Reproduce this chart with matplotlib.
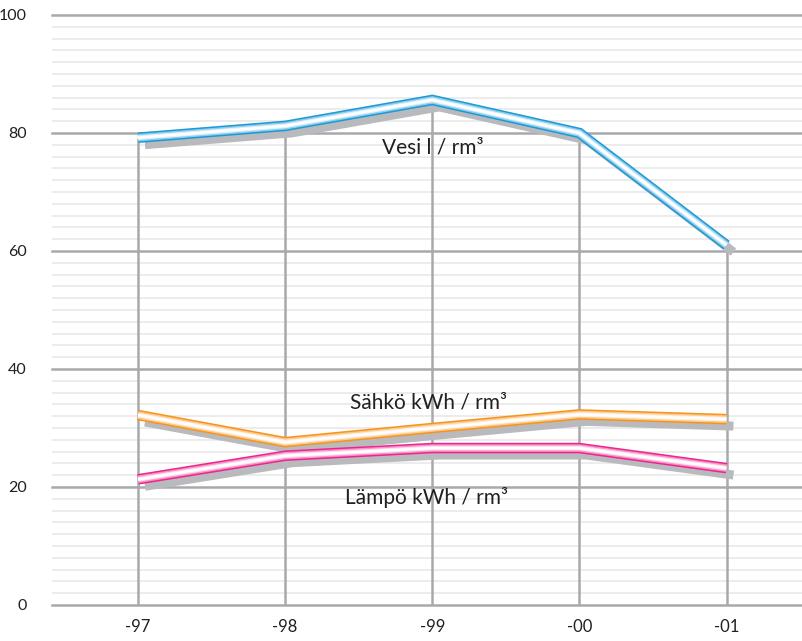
import numpy as np
import matplotlib
matplotlib.use("Agg")
import matplotlib.pyplot as plt
import matplotlib.transforms as mtransforms
from matplotlib.colors import to_rgb

plt.rcParams['font.family'] = ['Lato', 'DejaVu Sans']

# data
years = ["-97", "-98", "-99", "-00", "-01"]
vesi = [79.2, 81.2, 85.6, 80.0, 61.0]
sahko = [32.2, 27.6, 30.0, 32.3, 31.5]
lampo = [21.3, 25.3, 26.6, 26.6, 23.2]

labels = ["Vesi l / rm³", "Sähkö kWh / rm³", "Lämpö kWh / rm³"]
colors = ["#1b9ad7", "#f7941d", "#ec268f"]

major_col = "#a9a9ac"
minor_col = "#ebebeb"
shadow_col = "#b9babd"

fig = plt.figure(figsize=(8.03, 6.41), dpi=100)
ax = fig.add_axes([52/803, 36/641, 751/803, 590/641])
x = np.arange(len(years))

ax.set_xlim(-0.585, 4.52)
ax.set_ylim(0, 100)
for s in ax.spines.values():
    s.set_visible(False)

# grid lines
for yv in np.arange(2, 100, 2):
    if yv % 20:
        ax.axhline(yv, color=minor_col, lw=1.3, zorder=0)
for yv in np.arange(0, 101, 20):
    ax.axhline(yv, color=major_col, lw=1.8, zorder=1, clip_on=False)

# drop lines from 0 to the top series
ax.vlines(x, 0, vesi, color=major_col, lw=1.8, zorder=2)

shadow = ax.transData + mtransforms.ScaledTranslation(5/72, -5/72, fig.dpi_scale_trans)

def white_mix(c, f):
    r = np.array(to_rgb(c))
    return tuple(r + (1 - r) * f)

series = [vesi, sahko, lampo]
for vals in series:
    ax.plot(x, vals, color=shadow_col, lw=6.5, transform=shadow, zorder=3,
            solid_joinstyle="miter", solid_capstyle="butt")

for vals, c in zip(series, colors):
    ax.plot(x, vals, color=c, lw=7.6, zorder=4, solid_joinstyle="miter", solid_capstyle="butt")
    ax.plot(x, vals, color=white_mix(c, 0.5), lw=5.4, zorder=5, solid_joinstyle="miter", solid_capstyle="butt")
    ax.plot(x, vals, color=white_mix(c, 0.85), lw=3.4, zorder=6, solid_joinstyle="miter", solid_capstyle="butt")
    ax.plot(x, vals, color="white", lw=1.8, zorder=6, solid_joinstyle="miter", solid_capstyle="butt")

ax.text(1.66, 77.6, labels[0], fontsize=15, color="#231f20", ha="left", va="center", zorder=7)
ax.text(1.44, 34.4, labels[1], fontsize=15, color="#231f20", ha="left", va="center", zorder=7)
ax.text(1.41, 18.3, labels[2], fontsize=15, color="#231f20", ha="left", va="center", zorder=7)

ax.set_xticks(x)
ax.set_xticklabels(years, fontsize=12, color="#231f20")
ax.set_yticks(np.arange(0, 101, 20))
ax.set_yticklabels([str(v) for v in range(0, 101, 20)], fontsize=11.5, color="#231f20")
ax.tick_params(axis="both", length=0)
ax.tick_params(axis="x", pad=10)
ax.tick_params(axis="y", pad=18)

fig.savefig("out.png", dpi=100)
